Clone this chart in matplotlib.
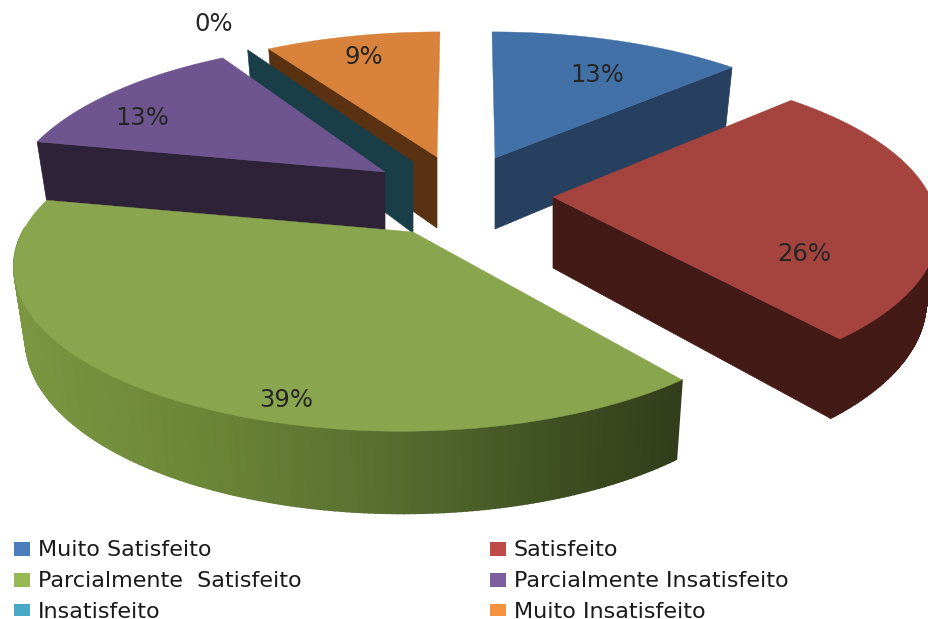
import numpy as np
import matplotlib
matplotlib.use('Agg')
import matplotlib.pyplot as plt
from matplotlib.patches import Rectangle
from matplotlib.colors import to_rgb

categories = ['Muito Satisfeito', 'Satisfeito', 'Parcialmente  Satisfeito',
              'Parcialmente Insatisfeito', 'Insatisfeito', 'Muito Insatisfeito']
values = [13, 26, 39, 13, 0, 9]
labels = ['13%', '26%', '39%', '13%', '0%', '9%']

top_colors = ['#4271a8', '#a5433f', '#89a54e', '#6f5590', '#3f97b0', '#d8823b']
wall_colors = ['#28405f', '#441a16', '#5c7330', '#2e2238', '#1a3e48', '#5a3212']
legend_colors = ['#4a7ebb', '#be4b48', '#98b855', '#7d5fa0', '#46aac5', '#f59240']

# where each exploded slice has its tip, in pixels
tips = [(495, 158), (553, 197), (413, 232), (385, 172), (413, 162), (437, 157)]
# small nudges of the rim against the tip, the real chart has perspective we don't model
rim_shift = [(-3, 3), (-2, -3), (-12, -1), (9, -2), (6, 0), (3, 4)]
angle_nudge = [(0, 0), (0, 0), (1.5, 1), (0, 0), (0, 0), (0, 0)]
label_pos = [(597, 75), (804, 254), (286, 400), (142, 118), (214, 24), (364, 57)]
draw_order = [5, 4, 3, 0, 1, 2]

RX, RY = 378, 157
PERSP = 0.216
HEIGHT = 71
VANISH_X = 465


def project(i, theta, r=1.0, lower=False):
    x, y = r * np.sin(theta), r * np.cos(theta)
    w = 1 + PERSP * y
    sx = tips[i][0] + RX * x / w + rim_shift[i][0] * r
    sy = tips[i][1] - RY * y / w + rim_shift[i][1] * r
    if lower:
        # bottom face is a bit smaller, pulled to the middle
        if r > 0:
            sx = VANISH_X + (sx - VANISH_X) * 0.974
        sy = sy + HEIGHT / w ** 0.6
    return sx, sy


def green_shade(x):
    xs = [10, 200, 400, 560, 680]
    rs = [to_rgb('#7b9741'), to_rgb('#6c8638'), to_rgb('#566c2e'), to_rgb('#3f4f22'), to_rgb('#323e1b')]
    return [np.interp(x, xs, [c[i] for c in rs]) for i in range(3)]


fig = plt.figure(figsize=(9.29, 6.19), dpi=100)
ax = fig.add_axes([0, 0, 1, 1])
ax.set_xlim(0, 929)
ax.set_ylim(619, 0)
ax.axis('off')

edges = np.radians(np.concatenate([[0], np.cumsum(values)]) * 3.6)

for i in draw_order:
    a0 = edges[i] + np.radians(angle_nudge[i][0])
    a1 = edges[i + 1] + np.radians(angle_nudge[i][1])
    th = np.linspace(a0, a1, 200)

    # flat walls from tip to rim, only the ones facing us
    walls = []
    if np.sin(a0) < -1e-6:
        walls.append(a0)
    if np.sin(a1) > 1e-6:
        walls.append(a1)
    for a in walls:
        tx, ty = project(i, a, 0)
        ox, oy = project(i, a)
        bx, by = project(i, a, lower=True)
        ax.fill([tx, ox, bx, tx], [ty, oy, by, ty + HEIGHT], color=wall_colors[i], lw=0.5)

    # rim wall (front half) and top
    if a1 > a0:
        up = np.array([project(i, t) for t in th])
        lo = np.array([project(i, t, lower=True) for t in th])
        for k in range(len(th) - 1):
            if np.cos(th[k]) > 0.02:
                continue
            c = green_shade(up[k, 0]) if i == 2 else wall_colors[i]
            ax.fill([up[k, 0], up[k + 1, 0], lo[k + 1, 0], lo[k, 0]],
                    [up[k, 1], up[k + 1, 1], lo[k + 1, 1], lo[k, 1]], color=c, lw=1.2)
        ax.fill(np.r_[tips[i][0], up[:, 0]], np.r_[tips[i][1], up[:, 1]], color=top_colors[i], lw=0.3)

for lab, (x, y) in zip(labels, label_pos):
    ax.text(x, y, lab, ha='center', va='center', fontsize=17.5, color='#262626', family='DejaVu Sans')

# legend, cut off at the bottom like the picture
clip = Rectangle((0, 0), 929, 616, transform=ax.transData)
col_x = [14, 490]
row_y = [556, 587, 618]
for i, name in enumerate(categories):
    col, row = i % 2, i // 2
    sw = ax.add_patch(Rectangle((col_x[col], row_y[row] - 14), 16, 14, color=legend_colors[i], lw=0))
    sw.set_clip_path(clip)
    t = ax.text(col_x[col] + 24, row_y[row], name, fontsize=16, color='#1a1a1a',
                family='DejaVu Sans', va='baseline', ha='left')
    t.set_clip_path(clip)

fig.savefig('out.png', dpi=100)
